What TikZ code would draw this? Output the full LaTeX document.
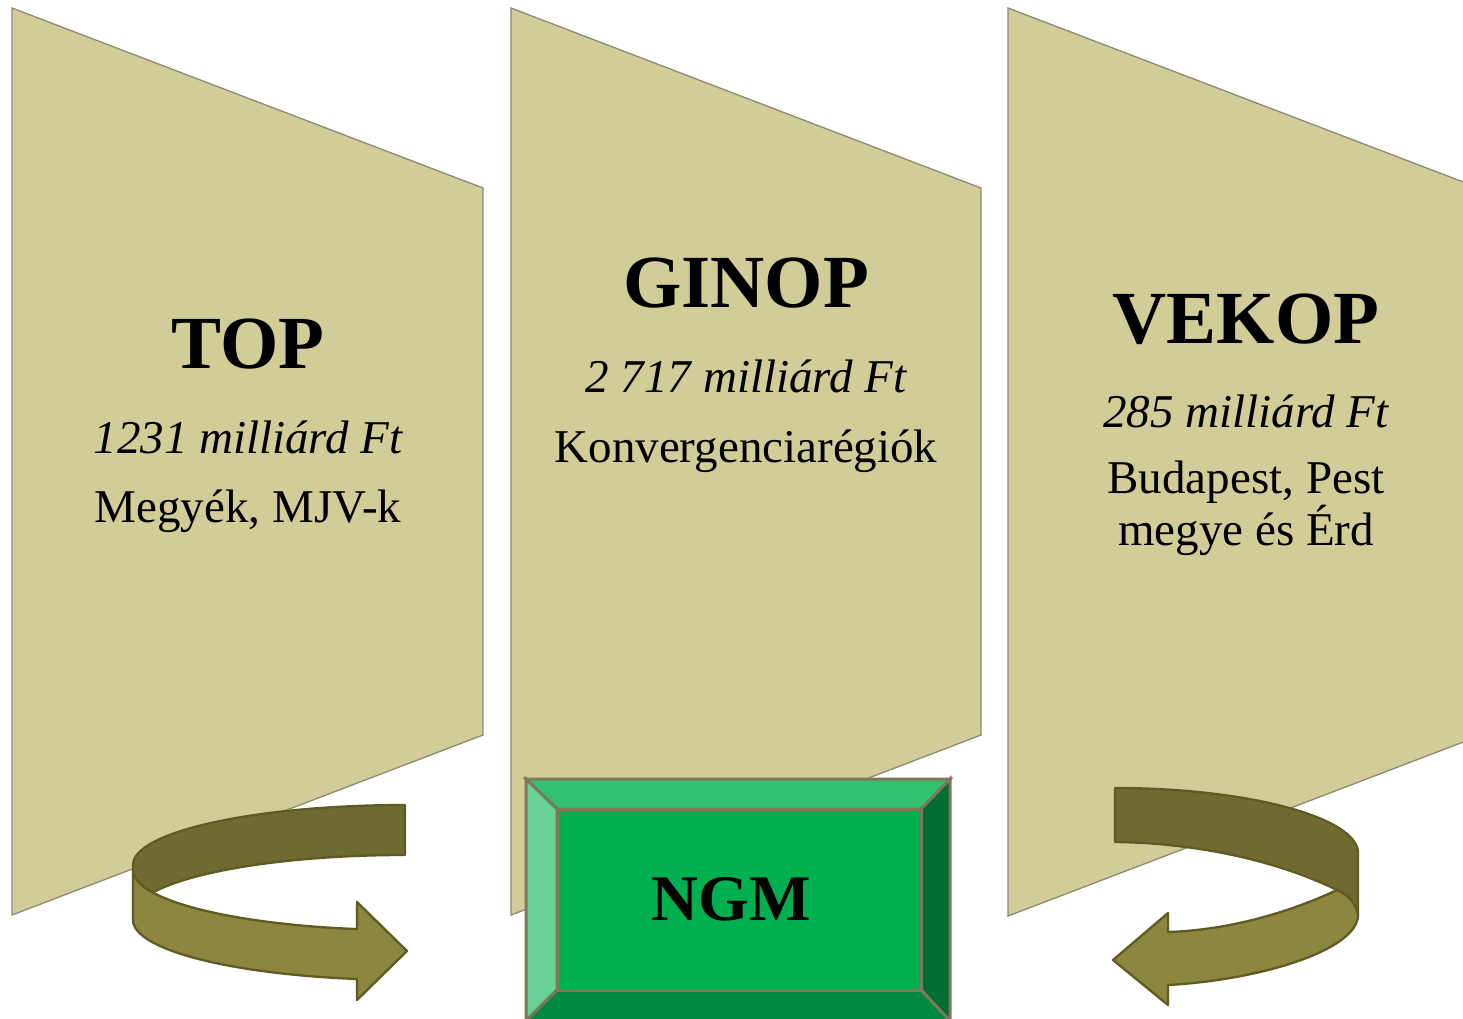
\documentclass[tikz,border=0pt]{standalone}
\usepackage{fontspec}
\setmainfont{Liberation Serif}
\definecolor{panel}{RGB}{208,205,152}
\definecolor{panelline}{RGB}{140,138,115}
\definecolor{arrdark}{RGB}{110,106,49}
\definecolor{arrlight}{RGB}{139,134,64}
\definecolor{arrline}{RGB}{95,91,35}
\definecolor{bvtop}{RGB}{51,192,115}
\definecolor{bvleft}{RGB}{104,210,150}
\definecolor{bvmid}{RGB}{0,175,80}
\definecolor{bvright}{RGB}{0,110,50}
\definecolor{bvbot}{RGB}{0,137,62}
\definecolor{bvline}{RGB}{125,120,90}
\begin{document}
\begin{tikzpicture}[x=1pt,y=1pt,
  panelshape/.style={fill=panel,draw=panelline,line width=1.3pt,line join=miter},
  ribbon/.style={draw=arrline,line width=2.3pt,line join=round},
  bevel/.style={draw=bvline,line width=3pt,line join=miter},
  title/.style={anchor=base,inner sep=0pt,font=\fontsize{75}{80}\selectfont\bfseries},
  fund/.style={anchor=base,inner sep=0pt,font=\fontsize{47}{52}\selectfont\itshape},
  region/.style={anchor=base,inner sep=0pt,font=\fontsize{47}{52}\selectfont}]
\path[use as bounding box] (0,0) rectangle (1463,-1018);
\clip (0,0) rectangle (1463,-1018);
\fill[white] (0,0) rectangle (1463,-1018);

% panels
\path[panelshape] (12,-8) -- (483,-188) -- (483,-735) -- (12,-915) -- cycle;
\path[panelshape] (511,-8) -- (981,-188) -- (981,-735) -- (511,-915) -- cycle;
\path[panelshape] (1008,-8) -- (1479,-188) -- (1479,-736) -- (1008,-916) -- cycle;

% texts
\node[title]  (top)      at (248,-368) {TOP};
\node[fund]   (topfund)  at (248,-453) {1231 milliárd Ft};
\node[region] (topreg)   at (248,-522) {Megyék, MJV-k};

\node[title]  (ginop)     at (746,-307) {GINOP};
\node[fund]   (ginopfund) at (746,-392) {2 717 milliárd Ft};
\node[region] (ginopreg)  at (746,-462) {Konvergenciarégiók};

\node[title]  (vekop)     at (1246,-343) {VEKOP};
\node[fund]   (vekopfund) at (1246,-427) {285 milliárd Ft};
\node[region] (vekopreg1) at (1246,-493) {Budapest, Pest};
\node[region] (vekopreg2) at (1246,-545) {megye és Érd};

% left curved arrow
\path[ribbon,fill=arrdark] (405,-805)
  arc[start angle=90,end angle=180,x radius=272pt,y radius=60pt]
  -- (133,-870)
  arc[start angle=180,end angle=202.02,x radius=272pt,y radius=60pt]
  arc[start angle=157.98,end angle=90,x radius=272pt,y radius=60pt]
  -- cycle;
\path[ribbon,fill=arrlight] (133,-870)
  arc[start angle=180,end angle=259.83,x radius=272pt,y radius=60pt]
  -- (357,-902) -- (407,-951) -- (357,-1000) -- (357,-979)
  arc[start angle=259.83,end angle=180,x radius=272pt,y radius=60pt]
  -- cycle;

% NGM bevel box
\path[bevel,fill=bvtop]   (526,-779) -- (950,-779) -- (921,-809) -- (557,-809) -- cycle;
\path[bevel,fill=bvleft]  (526,-779) -- (557,-809) -- (557,-990) -- (526,-1021) -- cycle;
\path[bevel,fill=bvright] (950,-779) -- (950,-1021) -- (921,-990) -- (921,-809) -- cycle;
\path[bevel,fill=bvbot]   (557,-990) -- (921,-990) -- (950,-1021) -- (526,-1021) -- cycle;
\path[bevel,fill=bvmid]   (557,-809) rectangle (921,-990);
\node[anchor=base,inner sep=0pt,font=\fontsize{65}{70}\selectfont\bfseries] (ngm) at (731,-920) {NGM};

% right curved arrow
\path[ribbon,fill=arrdark] (1115,-788)
  .. controls (1250,-788) and (1358,-818) .. (1358,-853)
  -- (1358,-915)
  .. controls (1356,-903) and (1348,-895) .. (1337,-890)
  .. controls (1280,-862) and (1200,-843) .. (1115,-842)
  -- cycle;
\path[ribbon,fill=arrlight] (1337,-890)
  .. controls (1290,-912) and (1230,-930) .. (1168,-932)
  -- (1168,-913) -- (1113,-960) -- (1168,-1005) -- (1168,-985)
  .. controls (1260,-980) and (1358,-950) .. (1358,-915)
  .. controls (1356,-903) and (1348,-895) .. (1337,-890)
  -- cycle;
\end{tikzpicture}
\end{document}
